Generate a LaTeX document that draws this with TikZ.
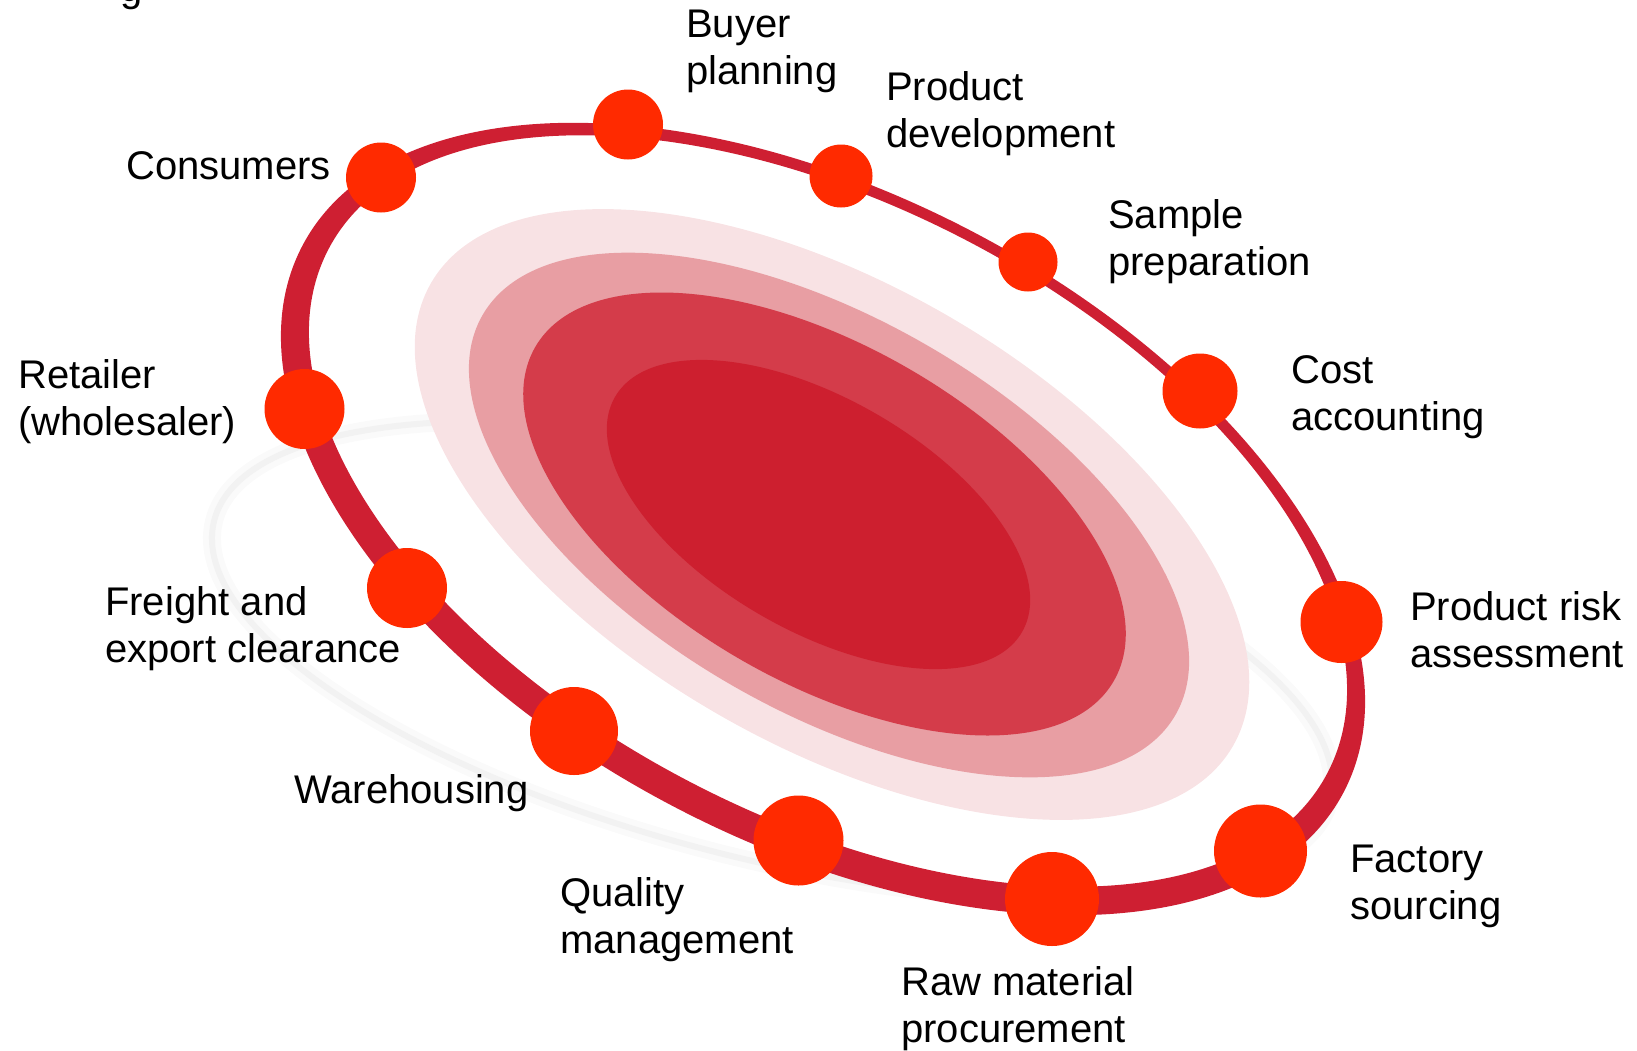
\documentclass[tikz,border=0pt]{standalone}
\usepackage{fontspec}
\setmainfont{Liberation Sans}
\usepackage{tikz}
\definecolor{ringred}{RGB}{206,31,50}
\definecolor{dotred}{RGB}{255,42,0}
\definecolor{blobA}{RGB}{248,226,228}
\definecolor{blobB}{RGB}{232,158,163}
\definecolor{blobC}{RGB}{212,60,74}
\definecolor{blobD}{RGB}{205,31,47}
\newcommand{\lblfont}{\fontsize{40}{47}\selectfont}
\tikzset{
  stage/.style={circle,fill=dotred,inner sep=0pt,minimum size=#1},
  lbl/.style={anchor=base west,align=left,inner sep=0pt,font=\lblfont},
}

\begin{document}
\begin{tikzpicture}[x=1pt,y=-1pt]
\useasboundingbox (0,0) rectangle (1637,1050);
% faint shadow ring
\begin{scope}[shift={(772,660)},rotate=-14]
  \draw[black!2,line width=18] (0,0) ellipse [x radius=575, y radius=200];
  \draw[black!5,line width=6] (0,0) ellipse [x radius=575, y radius=200];
\end{scope}
% centre
\fill[blobA,rotate around={-30:(832,514.5)}] (832,514.5) ellipse [x radius=463, y radius=230];
\fill[blobB,rotate around={-30:(829,515)}] (829,515) ellipse [x radius=400, y radius=196];
\fill[blobC,rotate around={-30:(824.5,514)}] (824.5,514) ellipse [x radius=334, y radius=168];
\fill[blobD,rotate around={-30:(818.5,514.5)}] (818.5,514.5) ellipse [x radius=235, y radius=116];
% ring
\begin{scope}[shift={(823,519)},rotate=-27.7]
  \fill[ringred,even odd rule] (0,0) ellipse [x radius=588, y radius=324]
    (0.7,-9.4) ellipse [x radius=564, y radius=304];
\end{scope}

\node[stage=70] (consumers) at (381,177.5) {};
\node[stage=70] (buyer) at (628,124.5) {};
\node[stage=63] (proddev) at (841,176) {};
\node[stage=59] (sample) at (1028,262) {};
\node[stage=75] (cost) at (1200,391) {};
\node[stage=82] (risk) at (1341.5,622) {};
\node[stage=93] (factory) at (1260.5,851) {};
\node[stage=94] (raw) at (1052,899) {};
\node[stage=90] (quality) at (798.5,840.5) {};
\node[stage=88] (warehousing) at (574,731) {};
\node[stage=80] (freight) at (407,588) {};
\node[stage=80] (retailer) at (304.5,409) {};

% anchors sit on the last line
\node[lbl] (top-txt) at (120,1) {g};
\node[lbl] (consumers-txt) at (126,179) {Consumers};
\node[lbl] (buyer-txt) at (686,84) {Buyer\\planning};
\node[lbl] (proddev-txt) at (886,147) {Product\\development};
\node[lbl] (sample-txt) at (1108,275) {Sample\\preparation};
\node[lbl] (cost-txt) at (1291,430) {Cost\\accounting};
\node[lbl] (risk-txt) at (1410,667) {Product risk\\assessment};
\node[lbl] (factory-txt) at (1350,919) {Factory\\sourcing};
\node[lbl] (raw-txt) at (901,1042) {Raw material\\procurement};
\node[lbl] (quality-txt) at (560,953) {Quality\\management};
\node[lbl] (warehousing-txt) at (294,803) {Warehousing};
\node[lbl] (freight-txt) at (105,662) {Freight and\\export clearance};
\node[lbl] (retailer-txt) at (18,435) {Retailer\\(wholesaler)};
\end{tikzpicture}
\end{document}
